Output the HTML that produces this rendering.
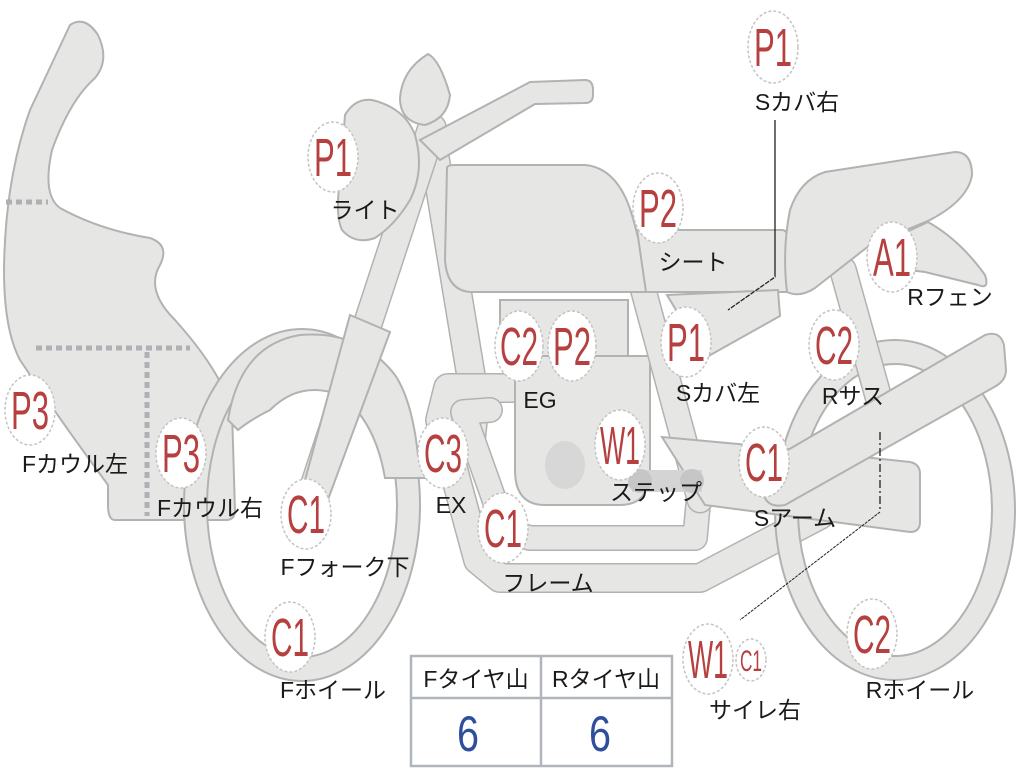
<!DOCTYPE html>
<html><head><meta charset="utf-8"><style>
html,body{margin:0;padding:0;background:#fff;width:1024px;height:768px;overflow:hidden}
svg{display:block}
.s{fill:#e6e6e4;stroke:#b2b2b2;stroke-width:2}
.o{fill:none;stroke:#b2b2b2;stroke-linecap:round;stroke-linejoin:round}
.i{fill:none;stroke:#e6e6e4;stroke-linecap:round;stroke-linejoin:round}
.b{fill:#fff;stroke:#c4c4c4;stroke-width:1.5;stroke-dasharray:3 2}
.bt{font-family:"Liberation Sans",sans-serif;fill:#b5403f;font-size:54px;text-anchor:middle}
.lb{font-family:"Liberation Sans","Noto Sans CJK JP",sans-serif;fill:#1a1a1a;font-size:23px;text-anchor:middle}
</style></head><body>
<svg width="1024" height="768" viewBox="0 0 1024 768">
<path class="s" d="M70,25 Q85,15 98,35 Q110,60 95,78 Q70,100 52,150 Q42,195 60,208 Q100,230 150,238 Q170,245 160,265 Q145,290 175,320 Q220,370 232,410 L235,512 Q234,520 226,520 L115,520 Q108,520 108,505 L108,485 Q60,420 20,360 Q4,330 4,270 Q5,180 30,110 Z"/>
<path d="M6,202 H48 M36,348 H190 M147,352 V516" stroke="#aeb0b4" stroke-width="5" stroke-dasharray="6 4" fill="none"/>
<path class="s" fill-rule="evenodd" d="M184,505 A118,176 0 1,0 420,505 A118,176 0 1,0 184,505 Z M207,505 A95,152 0 1,0 397,505 A95,152 0 1,0 207,505 Z"/>
<path class="s" d="M228,420 Q240,345 300,335 Q360,330 395,375 Q412,400 418,455 L428,458 L428,478 L385,478 Q375,420 340,395 Q300,380 270,410 Q250,420 238,430 Z"/>
<g>
<polyline class="o" stroke-width="30" points="432,140 475,400 470,450"/>
<polyline class="i" stroke-width="27" points="432,140 475,400 470,450"/>
<polyline class="o" stroke-width="30" points="520,388 448,388 440,420 478,560 500,578 700,578 820,515"/>
<polyline class="i" stroke-width="27" points="520,388 448,388 440,420 478,560 500,578 700,578 820,515"/>
<polyline class="o" stroke-width="26" points="490,410 463,412 505,530 530,538 695,538 698,505"/>
<polyline class="i" stroke-width="23" points="490,410 463,412 505,530 530,538 695,538 698,505"/>
</g>
<rect class="s" x="500" y="300" width="128" height="56"/>
<path class="s" d="M515,356 H650 V470 Q650,505 620,505 H545 Q515,505 515,470 Z"/>
<ellipse cx="565" cy="465" rx="20" ry="24" fill="#d7d7d7"/>
<polyline class="o" stroke-width="27" points="642,285 700,500"/>
<polyline class="i" stroke-width="24" points="642,285 700,500"/>
<path class="s" fill-rule="evenodd" d="M775,510 A120,170 0 1,0 1015,510 A120,170 0 1,0 775,510 Z M798,510 A97,146 0 1,0 992,510 A97,146 0 1,0 798,510 Z"/>
<polyline class="o" stroke-width="28" points="843,270 882,410"/>
<polyline class="i" stroke-width="25" points="843,270 882,410"/>
<path class="s" d="M662,437 L760,446 L910,462 Q920,464 920,474 L920,522 Q920,532 910,532 L705,505 Z"/>
<rect x="632" y="470" width="70" height="22" fill="#d4d4d4"/>
<circle cx="640" cy="481" r="12" fill="#c6c6c6"/>
<circle cx="692" cy="481" r="12" fill="#c6c6c6"/>
<path class="s" d="M745,475 L985,335 Q1000,330 1004,345 L1006,370 Q1006,380 996,386 L785,505 Q770,508 765,498 Z"/>
<polyline class="o" stroke-width="30" points="300,530 432,128"/>
<polyline class="i" stroke-width="27" points="300,530 432,128"/>
<path class="s" d="M350,315 L390,332 L313,540 Q300,555 290,535 Z"/>
<path class="s" d="M420,140 L530,82 L585,80 Q593,80 593,90 L593,95 Q593,103 585,103 L535,104 L440,160 Z"/>
<path class="s" d="M400,98 Q402,70 428,54 Q440,60 450,95 Q448,118 425,125 Q400,122 400,98 Z"/>
<path class="s" d="M345,115 Q355,98 372,100 Q405,108 415,135 Q425,170 410,200 Q395,225 375,238 Q355,245 342,230 Q335,215 340,180 Z"/>
<path class="s" d="M447,168 Q447,165 455,165 L585,165 Q618,168 632,215 Q645,260 648,292 L470,292 Q447,290 445,260 Z"/>
<path class="s" d="M637,230 H782 Q787,230 787,236 V292 H646 Z"/>
<path class="s" d="M667,295 L778,290 L780,316 L705,358 Z"/>
<path class="s" d="M787,292 Q782,250 790,210 Q800,180 825,172 L955,152 Q972,152 972,175 Q968,200 930,220 L870,245 L815,288 Q800,298 787,292 Z"/>
<path class="s" d="M868,250 L928,222 Q960,240 985,275 Q990,290 978,285 L925,272 L868,265 Z"/>
<path d="M775,120 V277 L728,310" stroke="#222" stroke-width="1.3" fill="none"/>
<path d="M775,277 L728,310" stroke="#fff" stroke-width="1.5" stroke-dasharray="1 5" fill="none"/>
<path d="M880,432 V512" stroke="#222" stroke-width="1.3" stroke-dasharray="8 3 2 3" fill="none"/>
<path d="M880,512 L740,620" stroke="#222" stroke-width="1" stroke-dasharray="3 1" fill="none"/>
<g>
<ellipse class="b" cx="773" cy="47" rx="25" ry="36"/><text class="bt" x="773" y="66" textLength="38" lengthAdjust="spacingAndGlyphs">P1</text>
<ellipse class="b" cx="333" cy="157" rx="25" ry="35"/><text class="bt" x="333" y="176" textLength="38" lengthAdjust="spacingAndGlyphs">P1</text>
<ellipse class="b" cx="658" cy="208" rx="25" ry="35"/><text class="bt" x="658" y="227" textLength="38" lengthAdjust="spacingAndGlyphs">P2</text>
<ellipse class="b" cx="892" cy="257" rx="25" ry="35"/><text class="bt" x="892" y="276" textLength="38" lengthAdjust="spacingAndGlyphs">A1</text>
<ellipse class="b" cx="834" cy="345" rx="25" ry="35"/><text class="bt" x="834" y="364" textLength="38" lengthAdjust="spacingAndGlyphs">C2</text>
<ellipse class="b" cx="686" cy="342" rx="25" ry="35"/><text class="bt" x="686" y="361" textLength="38" lengthAdjust="spacingAndGlyphs">P1</text>
<ellipse class="b" cx="519" cy="346" rx="24" ry="35"/><text class="bt" x="519" y="365" textLength="38" lengthAdjust="spacingAndGlyphs">C2</text>
<ellipse class="b" cx="572" cy="346" rx="24" ry="35"/><text class="bt" x="572" y="365" textLength="38" lengthAdjust="spacingAndGlyphs">P2</text>
<ellipse class="b" cx="30" cy="410" rx="25" ry="35"/><text class="bt" x="30" y="429" textLength="38" lengthAdjust="spacingAndGlyphs">P3</text>
<ellipse class="b" cx="181" cy="453" rx="25" ry="35"/><text class="bt" x="181" y="472" textLength="38" lengthAdjust="spacingAndGlyphs">P3</text>
<ellipse class="b" cx="443" cy="453" rx="25" ry="35"/><text class="bt" x="443" y="472" textLength="38" lengthAdjust="spacingAndGlyphs">C3</text>
<ellipse class="b" cx="620" cy="445" rx="25" ry="35"/><text class="bt" x="620" y="464" textLength="40" lengthAdjust="spacingAndGlyphs">W1</text>
<ellipse class="b" cx="764" cy="462" rx="25" ry="35"/><text class="bt" x="764" y="481" textLength="38" lengthAdjust="spacingAndGlyphs">C1</text>
<ellipse class="b" cx="306" cy="514" rx="25" ry="35"/><text class="bt" x="306" y="533" textLength="38" lengthAdjust="spacingAndGlyphs">C1</text>
<ellipse class="b" cx="503" cy="528" rx="25" ry="35"/><text class="bt" x="503" y="547" textLength="38" lengthAdjust="spacingAndGlyphs">C1</text>
<ellipse class="b" cx="290" cy="637" rx="25" ry="35"/><text class="bt" x="290" y="656" textLength="38" lengthAdjust="spacingAndGlyphs">C1</text>
<ellipse class="b" cx="708" cy="659" rx="25" ry="35"/><text class="bt" x="708" y="678" textLength="40" lengthAdjust="spacingAndGlyphs">W1</text>
<ellipse class="b" cx="751" cy="660" rx="15" ry="21"/><text class="bt" x="751" y="671" style="font-size:30px" textLength="22" lengthAdjust="spacingAndGlyphs">C1</text>
<ellipse class="b" cx="872" cy="634" rx="25" ry="35"/><text class="bt" x="872" y="653" textLength="38" lengthAdjust="spacingAndGlyphs">C2</text>
</g>
<g>
<text class="lb" x="797" y="110">Sカバ右</text>
<text class="lb" x="365" y="218">ライト</text>
<text class="lb" x="693" y="270">シート</text>
<text class="lb" x="950" y="305">Rフェン</text>
<text class="lb" x="853" y="404">Rサス</text>
<text class="lb" x="718" y="401">Sカバ左</text>
<text class="lb" x="540" y="408">EG</text>
<text class="lb" x="75" y="472">Fカウル左</text>
<text class="lb" x="210" y="516">Fカウル右</text>
<text class="lb" x="451" y="513">EX</text>
<text class="lb" x="656" y="500">ステップ</text>
<text class="lb" x="795" y="526">Sアーム</text>
<text class="lb" x="345" y="575">Fフォーク下</text>
<text class="lb" x="548" y="591">フレーム</text>
<text class="lb" x="333" y="698">Fホイール</text>
<text class="lb" x="755" y="718">サイレ右</text>
<text class="lb" x="920" y="698">Rホイール</text>
</g>
<rect x="411" y="656" width="261" height="110" fill="#fff" stroke="#b0b4bc" stroke-width="2.5"/>
<line x1="411" y1="698" x2="672" y2="698" stroke="#b0b4bc" stroke-width="2.5"/>
<line x1="541" y1="656" x2="541" y2="766" stroke="#b0b4bc" stroke-width="2.5"/>
<text class="lb" x="476" y="687">Fタイヤ山</text>
<text class="lb" x="606" y="687">Rタイヤ山</text>
<text x="468" y="751" font-family="Liberation Sans,sans-serif" font-size="50" fill="#2f4f9c" text-anchor="middle" textLength="22" lengthAdjust="spacingAndGlyphs">6</text>
<text x="600" y="751" font-family="Liberation Sans,sans-serif" font-size="50" fill="#2f4f9c" text-anchor="middle" textLength="22" lengthAdjust="spacingAndGlyphs">6</text>
</svg>
</body></html>
